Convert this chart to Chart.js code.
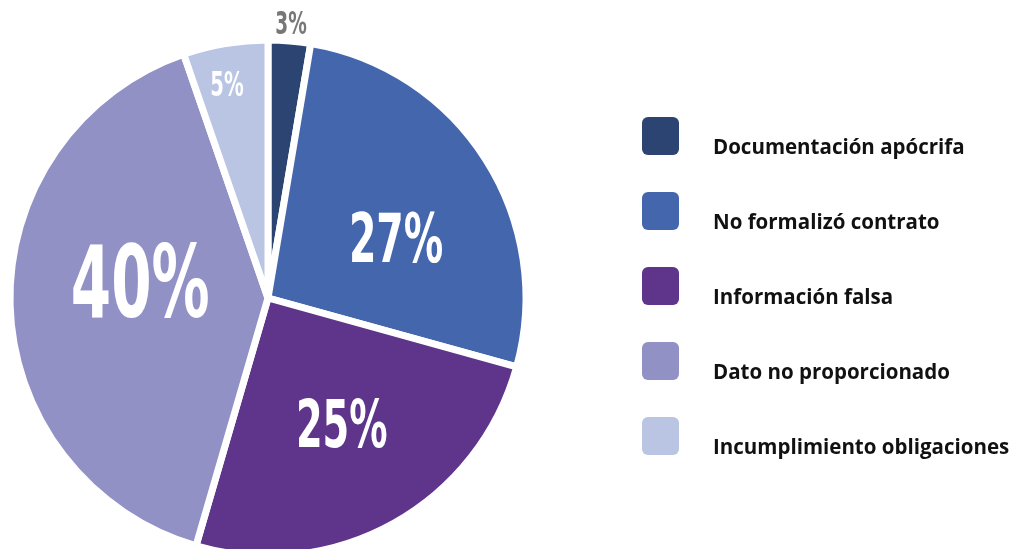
<!DOCTYPE html>
<html><head><meta charset="utf-8">
<script src="https://cdn.jsdelivr.net/npm/chart.js@4/dist/chart.umd.min.js"></script>
<style>
html,body{margin:0;padding:0;width:1017px;height:549px;overflow:hidden;background:#fff}
#c{position:absolute;left:0;top:0}
</style></head>
<body>
<canvas id="c" width="1017" height="560"></canvas>
<script>
const categories = ['Documentación apócrifa','No formalizó contrato','Información falsa','Dato no proporcionado','Incumplimiento obligaciones'];
const shares = [2.65,26.65,25.2,40.2,5.3];
const valueLabels = ['3%','27%','25%','40%','5%'];
const sliceColors = ['#2b4471','#4466ad','#5f358b','#9191c6','#b9c5e3'];

const labelStyle = [
  {r:1.074, da:0, size:32, color:'#777777'},
  {r:0.55, da:7, size:68, color:'#ffffff'},
  {r:0.562, da:-1.4, size:66, color:'#ffffff'},
  {r:0.5, da:9.4, size:100, color:'#ffffff'},
  {r:0.845, da:-1.3, size:34, color:'#ffffff'}
];

const sliceLabels = {
  id:'sliceLabels',
  afterDatasetsDraw(chart){
    const meta = chart.getDatasetMeta(0);
    const ctx = chart.ctx;
    meta.data.forEach((arc,i)=>{
      const p = arc.getProps(['x','y','startAngle','endAngle','outerRadius'],true);
      const s = labelStyle[i];
      const a = (p.startAngle+p.endAngle)/2 + s.da*Math.PI/180;
      const x = p.x + Math.cos(a)*p.outerRadius*s.r;
      const y = p.y + Math.sin(a)*p.outerRadius*s.r;
      ctx.save();
      ctx.font = 'bold '+s.size+'px "DejaVu Sans"';
      ctx.fillStyle = s.color;
      ctx.translate(x, y + s.size*0.365);
      ctx.scale(0.58,1);
      ctx.textAlign='center';
      ctx.textBaseline='alphabetic';
      ctx.fillText(valueLabels[i],0,0);
      ctx.restore();
    });
  }
};

const sideLegend = {
  id:'sideLegend',
  afterDraw(chart){
    const ctx = chart.ctx;
    const x0=642, y0=117, step=75, bw=37, bh=38;
    ctx.save();
    categories.forEach((c,i)=>{
      ctx.fillStyle = sliceColors[i];
      ctx.beginPath();
      ctx.roundRect(x0, y0+i*step, bw, bh, 6);
      ctx.fill();
      ctx.fillStyle = '#111111';
      ctx.font = 'bold 20.5px "Open Sans"';
      ctx.textAlign = 'left';
      ctx.textBaseline = 'alphabetic';
      ctx.fillText(c, 713, y0+i*step+37);
    });
    ctx.restore();
  }
};

new Chart(document.getElementById('c'), {
  type:'pie',
  data:{
    labels: categories,
    datasets:[{
      data: shares,
      backgroundColor: sliceColors,
      borderColor:'#ffffff',
      borderWidth:7
    }]
  },
  options:{
    responsive:false,
    animation:false,
    devicePixelRatio:1,
    layout:{padding:{left:6.5, top:36.5, right:487.5, bottom:0.5}},
    plugins:{legend:{display:false}, tooltip:{enabled:false}}
  },
  plugins:[sliceLabels, sideLegend]
});
</script>
</body></html>
